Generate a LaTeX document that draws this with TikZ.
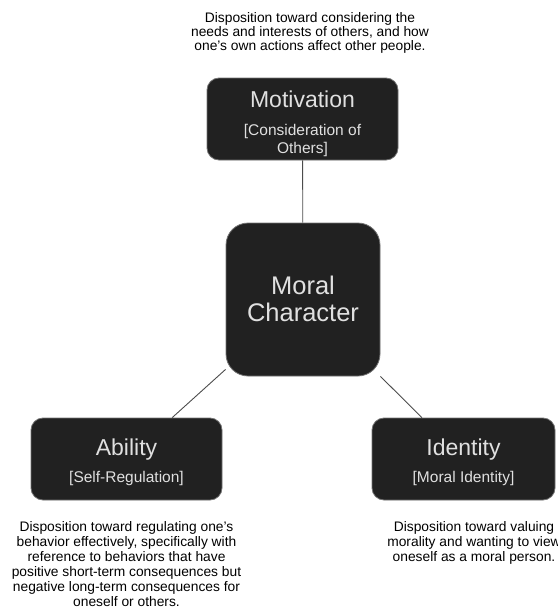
\documentclass[tikz,border=0pt]{standalone}
\usepackage{fontspec}
\setmainfont{Liberation Sans}
\begin{document}
\begin{tikzpicture}[x=1pt,y=-1pt,
    box/.style={draw=black!55, line width=0.8pt, fill=black!87, rounded corners=12pt, inner sep=0pt},
    title/.style={text=white!88!black, anchor=base, inner sep=0pt, font=\fontsize{23}{27}\selectfont},
    subtitle/.style={text=white!88!black, inner sep=0pt, align=center, font=\fontsize{15.5}{18}\selectfont},
    desc/.style={inner sep=0pt, align=center, font=\fontsize{13.8}{15}\selectfont},
    link/.style={draw=black!70, line width=0.9pt}]
    \clip (0,0) rectangle (557,610);
    \node[box, minimum width=191pt, minimum height=82pt] (motivation) at (302.5,119) {};
    \node[box, minimum width=154pt, minimum height=153pt, rounded corners=22pt] (moral) at (303,299.5) {};
    \node[box, minimum width=191pt, minimum height=82pt] (ability) at (126.5,459) {};
    \node[box, minimum width=183pt, minimum height=82pt] (identity) at (463.5,459) {};
    \draw[link] (motivation) -- (moral);
    \draw[link] (moral) -- (ability);
    \draw[link] (moral) -- (identity);
    \node[title] (motivationtitle) at (302.5,107) {Motivation};
    \node[subtitle] (motivationsub) at (302.5,140.5) {[Consideration of\\Others]};
    \node[subtitle, text=white!88!black, font=\fontsize{25.5}{27}\selectfont] (moraltitle) at (303,298.5) {Moral\\Character};
    \node[title] (abilitytitle) at (126.5,455) {Ability};
    \node[subtitle, anchor=base] (abilitysub) at (126.5,482) {[Self-Regulation]};
    \node[title] (identitytitle) at (463.5,455) {Identity};
    \node[subtitle, anchor=base] (identitysub) at (463.5,482) {[Moral Identity]};
    \node[desc, font=\fontsize{13.8}{14}\selectfont] (motivationdesc) at (310,33) {Disposition toward considering the\\needs and interests of others, and how\\one's own actions affect other people.};
    \node[desc] (abilitydesc) at (126.5,564) {Disposition toward regulating one's\\behavior effectively, specifically with\\reference to behaviors that have\\positive short-term consequences but\\negative long-term consequences for\\oneself or others.};
    \node[desc] (identitydesc) at (474,543) {Disposition toward valuing\\morality and wanting to view\\oneself as a moral person.};
  \end{tikzpicture}
\end{document}
